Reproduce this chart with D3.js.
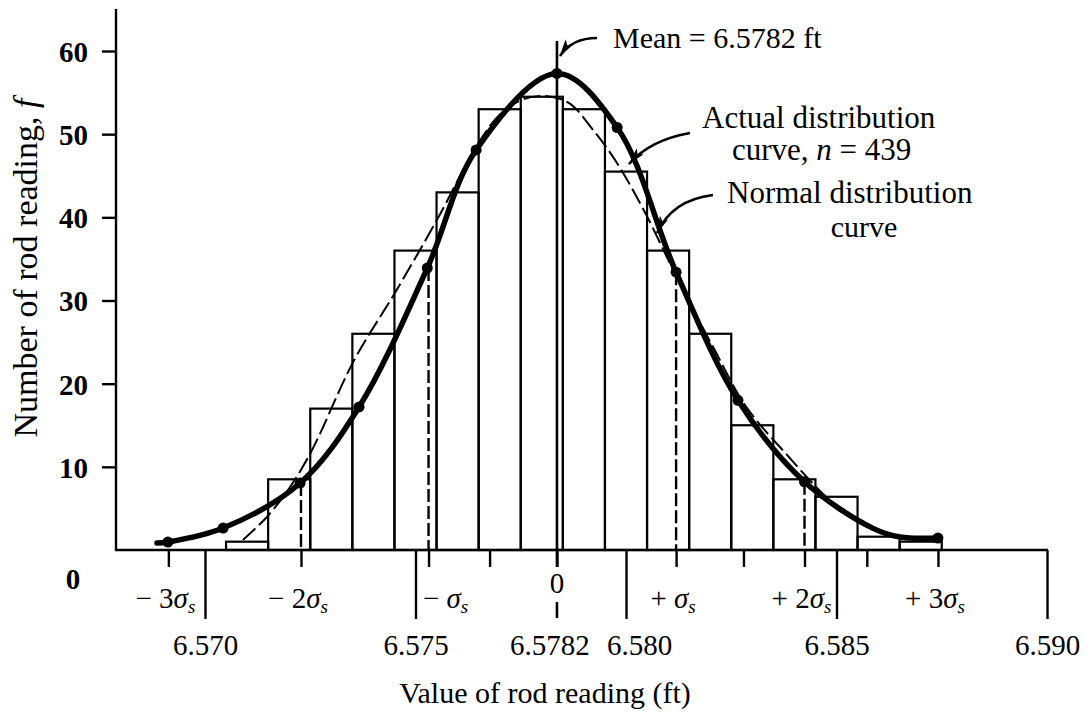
<!DOCTYPE html>
<html><head><meta charset="utf-8">
<script src="https://cdn.jsdelivr.net/npm/d3@7"></script>
<style>
html,body{margin:0;padding:0;background:#fff;}
svg{display:block;background:#fff;}
text{font-family:"Liberation Serif","DejaVu Serif",serif;fill:#000;}
</style></head><body>
<svg id="chart" width="1091" height="712"></svg>
<script>
// ---------------- data ----------------
const binCenters = [6.571,6.572,6.573,6.574,6.575,6.576,6.577,6.578,6.579,6.580,6.581,6.582,6.583,6.584,6.585,6.586,6.587];
const binCounts  = [1, 8.5, 17, 26, 36, 43, 53, 54.5, 53, 45.5, 36, 26, 15, 8.5, 6.4, 1.6, 1];
const binWidth = 0.001;

const yTicks = [10,20,30,40,50,60];
const valueTicks = [6.570,6.575,6.580,6.585,6.590];
const valueTickLabels = ["6.570","6.575","6.580","6.585","6.590"];
const meanLabel = "6.5782";
const sigmaMultipliers = [-3,-2,-1,0,1,2,3];
const sigmaTicks = [6.56913,6.57228,6.57531,6.57836,6.58119,6.58424,6.58741];
const minorTicks = [6.57676,6.58279,6.58572];

// thick solid curve (with plotted points)
const actualCurve = [
  {v:6.56886,f:0.84,dot:false},
  {v:6.56912,f:0.96,dot:true},
  {v:6.57043,f:2.64,dot:true},
  {v:6.57226,f:8.05,dot:true},
  {v:6.57366,f:17.2,dot:true},
  {v:6.57528,f:33.9,dot:true},
  {v:6.57644,f:48.1,dot:true},
  {v:6.57836,f:57.3,dot:true},
  {v:6.57979,f:50.8,dot:true},
  {v:6.58119,f:33.4,dot:true},
  {v:6.58266,f:18.0,dot:true},
  {v:6.58424,f:8.2,dot:true},
  {v:6.58587,f:2.6,dot:false},
  {v:6.58651,f:1.56,dot:false},
  {v:6.58741,f:1.44,dot:true}
];
// thin dashed curve
const normalCurve = [
  {v:6.57090,f:1.2},{v:6.57147,f:3.97},{v:6.57202,f:7.57},{v:6.57254,f:12.0},
  {v:6.57354,f:22.8},{v:6.57451,f:30.9},{v:6.57551,f:39.7},{v:6.57649,f:48.9},
  {v:6.57701,f:52.4},{v:6.57751,f:54.1},{v:6.57801,f:54.6},{v:6.57863,f:53.8},
  {v:6.57922,f:50.5},{v:6.57979,f:46.5},{v:6.58046,f:40.5},{v:6.58129,f:31.9},
  {v:6.58207,f:24.4},{v:6.58283,f:17.4},{v:6.58383,f:11.4},{v:6.58492,f:5.65},
  {v:6.58580,f:2.76},{v:6.58644,f:1.44}
];

// ---------------- drawing ----------------
const svg = d3.select('#chart');
const x = d3.scaleLinear().domain([6.570,6.590]).range([205,1047]);
const y = d3.scaleLinear().domain([0,60]).range([550,51]);
const axisX = 116, baseY = y(0);
const SERIF = '"Liberation Serif","DejaVu Serif",serif';

// defs: arrowhead
svg.append('defs').append('marker')
  .attr('id','ah').attr('markerUnits','userSpaceOnUse')
  .attr('viewBox','0 0 18 10').attr('refX',17).attr('refY',5)
  .attr('markerWidth',18).attr('markerHeight',10).attr('orient','auto')
  .append('path').attr('d','M0,0.5 L18,5 L0,9.5 L4,5 Z').attr('fill','#000');

// bars
svg.append('g').selectAll('rect').data(binCenters).join('rect')
  .attr('x',(d)=>x(d-binWidth/2))
  .attr('width',(d)=>x(d+binWidth/2)-x(d-binWidth/2))
  .attr('y',(d,i)=>y(binCounts[i]))
  .attr('height',(d,i)=>baseY-y(binCounts[i]))
  .attr('fill','none').attr('stroke','#000').attr('stroke-width',2.2);

// sigma dashed verticals at +-1, +-2 sigma
const sigDots = actualCurve.filter(d=>d.dot);
[1,2,4,5].forEach(i=>{
  const sv = sigmaTicks[i];
  const dot = sigDots.reduce((a,b)=>Math.abs(b.v-sv)<Math.abs(a.v-sv)?b:a);
  svg.append('line').attr('x1',x(sv)).attr('x2',x(sv))
    .attr('y1',y(dot.f)).attr('y2',baseY)
    .attr('stroke','#000').attr('stroke-width',2.4).attr('stroke-dasharray','13,4');
});

// mean line
const meanX = x(sigmaTicks[3]);
svg.append('line').attr('x1',meanX).attr('x2',meanX).attr('y1',41).attr('y2',baseY+17)
  .attr('stroke','#000').attr('stroke-width',2.6);
svg.append('line').attr('x1',meanX).attr('x2',meanX).attr('y1',602).attr('y2',618)
  .attr('stroke','#000').attr('stroke-width',2.6);

// dashed normal curve
const lineGen = d3.line().x(d=>x(d.v)).y(d=>y(d.f)).curve(d3.curveCatmullRom.alpha(0.5));
svg.append('path').datum(normalCurve).attr('d',lineGen)
  .attr('fill','none').attr('stroke','#000').attr('stroke-width',2)
  .attr('stroke-dasharray','17,5');

// thick actual curve
svg.append('path').datum(actualCurve).attr('d',lineGen)
  .attr('fill','none').attr('stroke','#000').attr('stroke-width',5.5)
  .attr('stroke-linecap','round');
svg.append('g').selectAll('circle').data(actualCurve.filter(d=>d.dot)).join('circle')
  .attr('cx',d=>x(d.v)).attr('cy',d=>y(d.f)).attr('r',5.5).attr('fill','#000');

// y axis
svg.append('line').attr('x1',axisX).attr('x2',axisX).attr('y1',9).attr('y2',baseY+1)
  .attr('stroke','#000').attr('stroke-width',2.4);
const yAx = svg.append('g').attr('transform',`translate(${axisX},0)`)
  .call(d3.axisLeft(y).tickValues(yTicks).tickSize(14).tickPadding(14).tickFormat(d3.format('d')));
yAx.select('.domain').remove();
yAx.selectAll('line').attr('stroke','#000').attr('stroke-width',2.4);
yAx.selectAll('text').attr('font-family',SERIF).attr('font-size',29).attr('font-weight','bold')
  .attr('dy','0.36em');
svg.append('text').attr('x',73).attr('y',589).attr('text-anchor','middle')
  .attr('font-size',29).attr('font-weight','bold').text('0');

// x baseline
svg.append('line').attr('x1',axisX-1).attr('x2',x(6.590)+1).attr('y1',baseY).attr('y2',baseY)
  .attr('stroke','#000').attr('stroke-width',2.6);

// major value ticks
const labelDx = {'6.580':13};
const xAx = svg.append('g').attr('transform',`translate(0,${baseY})`)
  .call(d3.axisBottom(x).tickValues(valueTicks).tickSize(69).tickPadding(15)
    .tickFormat((d,i)=>valueTickLabels[i]));
xAx.select('.domain').remove();
xAx.selectAll('line').attr('stroke','#000').attr('stroke-width',2.4);
xAx.selectAll('text').attr('font-family',SERIF).attr('font-size',29)
  .attr('dx',(d,i)=>labelDx[valueTickLabels[i]]||0);

// mean value label
svg.append('text').attr('x',meanX-7).attr('y',655).attr('text-anchor','middle')
  .attr('font-size',29).text(meanLabel);

// sigma ticks and minor ticks
const sAx = svg.append('g').attr('transform',`translate(0,${baseY})`)
  .call(d3.axisBottom(x).tickValues(sigmaTicks.concat(minorTicks)).tickSize(17).tickFormat(''));
sAx.select('.domain').remove();
sAx.selectAll('line').attr('stroke','#000').attr('stroke-width',2.4);

// sigma labels
const labelShift = {'-1':17};
sigmaMultipliers.forEach((k,i)=>{
  const cx = x(sigmaTicks[i]) + (labelShift[k]||-3);
  if(k===0){
    svg.append('text').attr('x',x(sigmaTicks[i])).attr('y',593).attr('text-anchor','middle')
      .attr('font-size',29).text('0');
    return;
  }
  const t = svg.append('text').attr('x',cx).attr('y',608).attr('text-anchor','middle').attr('font-size',29);
  t.append('tspan').text((k<0?'\u2212':'+') + ' ' + (Math.abs(k)>1?Math.abs(k):''));
  t.append('tspan').attr('font-style','italic').text('\u03c3');
  t.append('tspan').attr('font-style','italic').attr('font-size',19).attr('dy',5).text('s');
});

// axis titles
svg.append('text').attr('x',545).attr('y',703).attr('text-anchor','middle').attr('font-size',30)
  .text('Value of rod reading (ft)');
const yt = svg.append('text').attr('transform','translate(37,268) rotate(-90)')
  .attr('text-anchor','middle').attr('font-size',34);
yt.append('tspan').text('Number of rod reading, ');
yt.append('tspan').attr('font-style','italic').text('f');

// annotations
svg.append('text').attr('x',613).attr('y',48).attr('font-size',30).text('Mean = 6.5782 ft');
svg.append('text').attr('x',702).attr('y',128).attr('font-size',31).text('Actual distribution');
const t2 = svg.append('text').attr('x',732).attr('y',160).attr('font-size',31);
t2.append('tspan').text('curve, ');
t2.append('tspan').attr('font-style','italic').text('n');
t2.append('tspan').text(' = 439');
svg.append('text').attr('x',727).attr('y',203).attr('font-size',31).text('Normal distribution');
svg.append('text').attr('x',864).attr('y',237).attr('text-anchor','middle').attr('font-size',30).text('curve');

const arrows = [
  'M597,38 Q572,38 560,56',
  'M690,133 Q650,140 629,164',
  'M713,195 Q672,200 657,233'
];
svg.append('g').selectAll('path').data(arrows).join('path')
  .attr('d',d=>d).attr('fill','none').attr('stroke','#000').attr('stroke-width',2.6)
  .attr('marker-end','url(#ah)');
</script>
</body></html>
